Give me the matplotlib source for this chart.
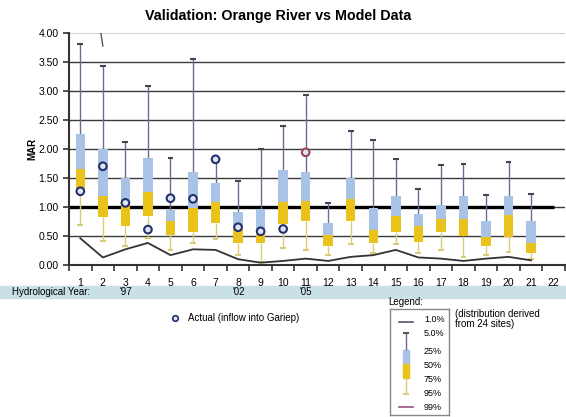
import numpy as np
import matplotlib
matplotlib.use("Agg")
import matplotlib.pyplot as plt
import matplotlib.ticker as mticker
from matplotlib.patches import Rectangle

plt.rcParams["font.family"] = ["Liberation Sans", "DejaVu Sans"]

# percentiles of exceedance per hydrological year index
years = np.arange(1, 22)
p05 = [3.80, 3.43, 2.11, 3.09, 1.85, 3.54, 1.80, 1.45, 1.99, 2.39, 2.92,
       1.07, 2.31, 2.15, 1.82, 1.31, 1.73, 1.74, 1.21, 1.77, 1.22]
p25 = [2.26, 1.99, 1.50, 1.85, 0.94, 1.61, 1.41, 0.92, 0.96, 1.64, 1.60,
       0.73, 1.50, 0.98, 1.19, 0.87, 1.04, 1.19, 0.76, 1.19, 0.76]
p50 = [1.65, 1.18, 1.07, 1.25, 0.75, 0.98, 1.08, 0.63, 0.60, 1.09, 1.10,
       0.52, 1.13, 0.61, 0.84, 0.67, 0.80, 0.79, 0.48, 0.86, 0.38]
p75 = [1.28, 0.83, 0.67, 0.84, 0.52, 0.57, 0.73, 0.38, 0.38, 0.70, 0.75,
       0.32, 0.75, 0.38, 0.57, 0.40, 0.57, 0.50, 0.33, 0.49, 0.21]
p95 = [0.69, 0.41, 0.32, 0.46, 0.26, 0.38, 0.44, 0.17, 0.05, 0.29, 0.26,
       0.17, 0.36, 0.20, 0.37, 0.21, 0.26, 0.13, 0.17, 0.22, 0.11]
p99 = [0.46, 0.13, 0.27, 0.38, 0.17, 0.27, 0.26, 0.10, 0.04, 0.07, 0.11,
       0.07, 0.14, 0.17, 0.26, 0.13, 0.11, 0.07, 0.11, 0.14, 0.08]
p01 = [6.3, 3.77] + [np.nan] * 19

actual_years = np.arange(1, 12)
actual = [1.27, 1.70, 1.07, 0.61, 1.15, 1.14, 1.82, 0.65, 0.58, 0.62, 1.94]

xticks = list(range(1, 23))
hydro_years = [3, 8, 11]
hydro_labels = ["'97", "'02", "'05"]

blue = "#a9c3e6"
yellow = "#e9c31c"
upper_col = "#6b6b8c"
lower_col = "#d9cc78"

fig = plt.figure(figsize=(5.66, 4.17), dpi=100)
ax = fig.add_axes([0.122, 0.3645, 0.876, 0.557])

p05 = np.array(p05); p25 = np.array(p25); p50 = np.array(p50)
p75 = np.array(p75); p95 = np.array(p95)

for y in np.arange(0.5, 4.0, 0.5):
    ax.axhline(y, color="#3a3a3a", lw=1.0, zorder=1)
ax.axhline(4.0, color="#c8c8c8", lw=1.2, zorder=1)
ax.hlines(1.0, 0.5, 22, color="black", lw=2.4, zorder=2)

w = 0.42
ax.vlines(years, p25, p05, color=upper_col, lw=1.0, zorder=3)
ax.hlines(p05, years - 0.13, years + 0.13, color="#444455", lw=1.5, zorder=3)
ax.vlines(years, p95, p75, color=lower_col, lw=1.0, zorder=3)
ax.hlines(p95, years - 0.13, years + 0.13, color=lower_col, lw=1.5, zorder=3)
ax.bar(years, p25 - p50, bottom=p50, width=w, color=blue, zorder=4)
ax.bar(years, p50 - p75, bottom=p75, width=w, color=yellow, zorder=4)

ax.plot(years, p99, color="#333333", lw=1.3, zorder=5)
ax.plot(years, p01, color="#555555", lw=1.0, zorder=5)

edges = ["#25306e"] * 10 + ["#a0405a"]
ax.scatter(actual_years, actual, s=30, facecolor="#dde4f4", edgecolor=edges,
           linewidth=1.5, zorder=6)

ax.set_xlim(0.5, 22.5)
ax.set_ylim(0, 4.0)
fig.text(278 / 566, 1 - 16 / 417, "Validation: Orange River vs Model Data",
         fontsize=10.3, fontweight="bold", ha="center", va="center")
ax.set_ylabel("MAR", fontsize=7, fontweight="bold", labelpad=1)

ax.set_xticks(xticks)
ax.set_xticks(np.arange(0.5, 23, 1.0), minor=True)
ax.tick_params(axis="x", which="major", length=0, labelsize=7.5, pad=9)
ax.tick_params(axis="x", which="minor", length=4, width=1.2, color="#333333")
ax.set_yticks(np.arange(0, 4.01, 0.5))
ax.yaxis.set_major_formatter(mticker.FormatStrFormatter("%.2f"))
ax.tick_params(axis="y", length=4, width=1.2, color="#333333", labelsize=7.5)

for side in ["top", "right"]:
    ax.spines[side].set_visible(False)
ax.spines["left"].set_color("#333333")
ax.spines["left"].set_linewidth(1.5)
ax.spines["bottom"].set_color("#333333")
ax.spines["bottom"].set_linewidth(1.5)

# hydrological year band
band = Rectangle((0, 1 - 298 / 417), 1, 12 / 417, transform=fig.transFigure,
                 color="#c9e0e6", zorder=-5)
fig.patches.append(band)
fig.text(12 / 566, 1 - 292 / 417, "Hydrological Year:", fontsize=7,
         va="center", ha="left", zorder=5)
for yr, lab in zip(hydro_years, hydro_labels):
    fig.text((81 + (yr - 1) * 22.5) / 566, 1 - 292 / 417, lab, fontsize=7,
             ha="center", va="center", zorder=5)

# actual legend
fig.lines.append(plt.Line2D([175 / 566], [1 - 318 / 417], marker="o",
                            markersize=4, markerfacecolor="#dde4f4",
                            markeredgecolor="#25306e", markeredgewidth=1.2,
                            transform=fig.transFigure))
fig.text(188 / 566, 1 - 318 / 417, "Actual (inflow into Gariep)", fontsize=7,
         va="center")

# percentile legend
fig.text(388 / 566, 1 - 302 / 417, "Legend:", fontsize=7, va="center")
fig.text(455 / 566, 1 - 319 / 417, "(distribution derived\nfrom 24 sites)",
         fontsize=7, va="center", linespacing=1.1)
lg = fig.add_axes([390 / 566, 1 - 415 / 417, 59 / 566, 106 / 417])
lg.set_xlim(390, 449)
lg.set_ylim(415, 309)
lg.set_xticks([])
lg.set_yticks([])
for s in lg.spines.values():
    s.set_color("#888888")
    s.set_linewidth(1.0)
lg.plot([399, 413], [322, 322], color="#555566", lw=1.2)
lg.plot([399, 413], [407, 407], color="#9a5080", lw=1.2)
lg.vlines(406, 333, 350, color=upper_col, lw=1.0)
lg.hlines(333, 403, 409, color="#444455", lw=1.3)
lg.vlines(406, 378, 394, color=lower_col, lw=1.0)
lg.hlines(394, 403, 409, color=lower_col, lw=1.3)
lg.add_patch(Rectangle((403, 350), 6, 14, color=blue))
lg.add_patch(Rectangle((403, 364), 6, 14, color=yellow))
leg_labels = ["1.0%", "5.0%", "25%", "50%", "75%", "95%", "99%"]
leg_pos = [320, 334, 351, 366, 379, 394, 408]
for lab, yp in zip(leg_labels, leg_pos):
    lg.text(424, yp, lab, fontsize=6.5, va="center", ha="left")

fig.savefig("out.png", dpi=100)
